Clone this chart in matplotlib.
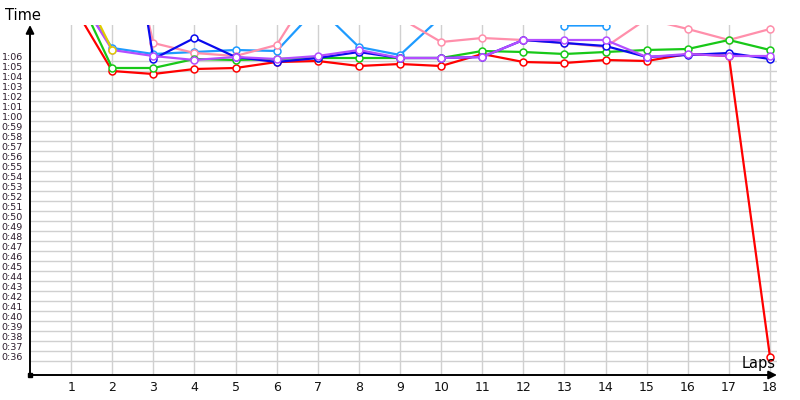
import numpy as np
import matplotlib
matplotlib.use("Agg")
import matplotlib.pyplot as plt

nan = np.nan
laps = list(range(1, 19))

# lap times in seconds
light_blue = [73.0, 66.8, 66.2, 66.4, 66.6, 66.5, 70.9, 66.9, 66.1, 69.9, 71.0, 71.5, 69.05, 69.05, 72.0, nan, nan, nan]
pink = [88.0, 85.0, 67.3, 66.3, 66.0, 67.1, 73.6, 71.5, 69.8, 67.4, 67.8, 67.6, 67.3, 66.9, 69.7, 68.7, 67.6, 68.7]
red = [71.4, 64.5, 64.2, 64.7, 64.8, 65.4, 65.5, 65.0, 65.2, 65.0, 66.2, 65.4, 65.3, 65.6, 65.5, 66.2, 66.0, 35.9]
green = [73.5, 64.8, 64.8, 65.7, 65.6, 65.7, 65.8, 65.8, 65.8, 65.8, 66.5, 66.4, 66.2, 66.4, 66.6, 66.7, 67.6, 66.6]
blue = [90.0, 92.0, 65.7, 67.8, 65.9, 65.4, 65.8, 66.4, 65.8, 65.8, 65.9, 67.6, 67.3, 67.0, 65.9, 66.1, 66.3, 65.7]
purple = [73.2, 66.6, 66.0, 65.6, 65.9, 65.7, 66.0, 66.6, 65.8, 65.8, 65.9, 67.6, 67.6, 67.6, 65.9, 66.2, 66.0, 66.0]
yellow = [74.9, 66.6, nan, nan, nan, nan, nan, nan, nan, nan, nan, nan, nan, nan, nan, nan, nan, nan]

series = [
    (light_blue, "#1e9bff"),
    (pink, "#ff8fab"),
    (red, "#ff0000"),
    (green, "#18c818"),
    (blue, "#0a0aee"),
    (purple, "#b44dff"),
    (yellow, "#e0cc00"),
]

time_ticks = list(range(36, 67))
time_labels = ["%d:%02d" % (t // 60, t % 60) for t in time_ticks]

fig = plt.figure(figsize=(8, 4), dpi=100)
ax = fig.add_axes([30 / 800, 25 / 400, 747 / 800, 350 / 400])

for vals, col in series:
    ax.plot(laps, vals, color=col, lw=1.6, marker="o", ms=5,
            mfc="white", mec=col, mew=1.1, zorder=3)

ax.set_xlim(0, 18.17)
ax.set_ylim(34.1, 69.1)

# grid: vertical at laps, horizontal between second labels
for lap in laps:
    ax.axvline(lap, color="#d0d0d0", lw=1, zorder=1)
for t in time_ticks:
    ax.axhline(t - 0.5, color="#d0d0d0", lw=1, zorder=1)

ax.set_xticks(laps)
ax.set_yticks(time_ticks)
ax.set_yticklabels(time_labels)
ax.tick_params(axis="x", length=0, pad=4, labelsize=9, colors="#111111")
ax.tick_params(axis="y", length=0, pad=5, labelsize=6.8, colors="#2a1a2a")
for s in ax.spines.values():
    s.set_visible(False)

# axis arrows
ax.annotate("", xy=(0, 1.0), xytext=(0, 0), xycoords="axes fraction",
            arrowprops=dict(arrowstyle="-|>", color="black", lw=1.4,
                            mutation_scale=12, shrinkA=0, shrinkB=0))
ax.annotate("", xy=(1.0, 0), xytext=(0, 0), xycoords="axes fraction",
            arrowprops=dict(arrowstyle="-|>", color="black", lw=1.4,
                            mutation_scale=12, shrinkA=0, shrinkB=0))
ax.plot([0], [0], "s", color="black", ms=3, transform=ax.transAxes, clip_on=False)

fig.text(5 / 800, 1 - 15 / 400, "Time", fontsize=10.5, va="center", ha="left")
ax.text(0.998, 0.012, "Laps", fontsize=10.5, transform=ax.transAxes,
        ha="right", va="bottom")

fig.savefig("out.png", dpi=100)
